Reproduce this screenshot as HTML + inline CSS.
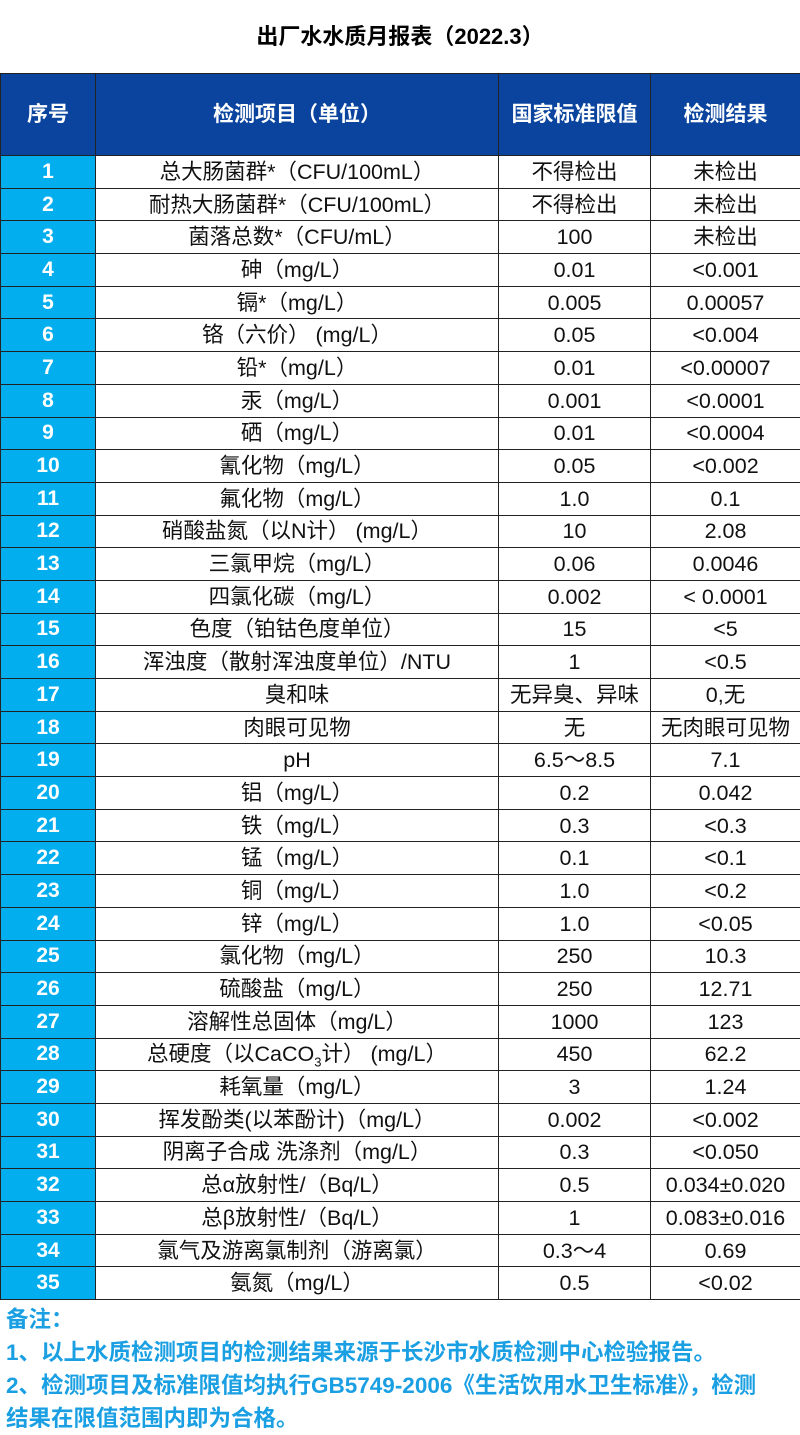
<!DOCTYPE html>
<html><head><meta charset="utf-8"><style>
*{margin:0;padding:0;box-sizing:border-box}
body{width:800px;height:1435px;background:#fff;font-family:"Liberation Sans","Noto Sans CJK SC",sans-serif;overflow:hidden;position:relative}
.title{position:absolute;top:22px;left:0;width:800px;text-align:center;font-weight:bold;font-size:22px;color:#000;line-height:30px}
table{position:absolute;top:73px;left:0;width:800px;border-collapse:collapse;table-layout:fixed}
td,th{border:1px solid #222;text-align:center;font-size:21.5px;color:#111;padding:0;white-space:nowrap;overflow:hidden;line-height:24px;vertical-align:middle}
th{background:#0a449e;color:#fff;font-weight:bold;height:82px;font-size:21px}
tbody tr{height:32.7px}
td:first-child{background:#03aeef;color:#fff;font-weight:bold;font-size:21px}
.notes{position:absolute;top:1303px;left:6px;color:#1a9fe3;font-weight:bold;font-size:22.5px;line-height:33px;white-space:nowrap}
sub{font-size:13px;line-height:0}
</style></head><body>
<div class="title">出厂水水质月报表（2022.3）</div>
<table>
<colgroup><col style="width:95px"><col style="width:403px"><col style="width:152px"><col style="width:150px"></colgroup>
<thead><tr><th>序号</th><th>检测项目（单位）</th><th>国家标准限值</th><th>检测结果</th></tr></thead>
<tbody>
<tr><td>1</td><td>总大肠菌群*（CFU/100mL）</td><td>不得检出</td><td>未检出</td></tr>
<tr><td>2</td><td>耐热大肠菌群*（CFU/100mL）</td><td>不得检出</td><td>未检出</td></tr>
<tr><td>3</td><td>菌落总数*（CFU/mL）</td><td>100</td><td>未检出</td></tr>
<tr><td>4</td><td>砷（mg/L）</td><td>0.01</td><td>&lt;0.001</td></tr>
<tr><td>5</td><td>镉*（mg/L）</td><td>0.005</td><td>0.00057</td></tr>
<tr><td>6</td><td>铬（六价） (mg/L）</td><td>0.05</td><td>&lt;0.004</td></tr>
<tr><td>7</td><td>铅*（mg/L）</td><td>0.01</td><td>&lt;0.00007</td></tr>
<tr><td>8</td><td>汞（mg/L）</td><td>0.001</td><td>&lt;0.0001</td></tr>
<tr><td>9</td><td>硒（mg/L）</td><td>0.01</td><td>&lt;0.0004</td></tr>
<tr><td>10</td><td>氰化物（mg/L）</td><td>0.05</td><td>&lt;0.002</td></tr>
<tr><td>11</td><td>氟化物（mg/L）</td><td>1.0</td><td>0.1</td></tr>
<tr><td>12</td><td>硝酸盐氮（以N计） (mg/L）</td><td>10</td><td>2.08</td></tr>
<tr><td>13</td><td>三氯甲烷（mg/L）</td><td>0.06</td><td>0.0046</td></tr>
<tr><td>14</td><td>四氯化碳（mg/L）</td><td>0.002</td><td>&lt; 0.0001</td></tr>
<tr><td>15</td><td>色度（铂钴色度单位）</td><td>15</td><td>&lt;5</td></tr>
<tr><td>16</td><td>浑浊度（散射浑浊度单位）/NTU</td><td>1</td><td>&lt;0.5</td></tr>
<tr><td>17</td><td>臭和味</td><td>无异臭、异味</td><td>0,无</td></tr>
<tr><td>18</td><td>肉眼可见物</td><td>无</td><td>无肉眼可见物</td></tr>
<tr><td>19</td><td>pH</td><td>6.5～8.5</td><td>7.1</td></tr>
<tr><td>20</td><td>铝（mg/L）</td><td>0.2</td><td>0.042</td></tr>
<tr><td>21</td><td>铁（mg/L）</td><td>0.3</td><td>&lt;0.3</td></tr>
<tr><td>22</td><td>锰（mg/L）</td><td>0.1</td><td>&lt;0.1</td></tr>
<tr><td>23</td><td>铜（mg/L）</td><td>1.0</td><td>&lt;0.2</td></tr>
<tr><td>24</td><td>锌（mg/L）</td><td>1.0</td><td>&lt;0.05</td></tr>
<tr><td>25</td><td>氯化物（mg/L）</td><td>250</td><td>10.3</td></tr>
<tr><td>26</td><td>硫酸盐（mg/L）</td><td>250</td><td>12.71</td></tr>
<tr><td>27</td><td>溶解性总固体（mg/L）</td><td>1000</td><td>123</td></tr>
<tr><td>28</td><td>总硬度（以CaCO<sub>3</sub>计） (mg/L）</td><td>450</td><td>62.2</td></tr>
<tr><td>29</td><td>耗氧量（mg/L）</td><td>3</td><td>1.24</td></tr>
<tr><td>30</td><td>挥发酚类(以苯酚计)（mg/L）</td><td>0.002</td><td>&lt;0.002</td></tr>
<tr><td>31</td><td>阴离子合成 洗涤剂（mg/L）</td><td>0.3</td><td>&lt;0.050</td></tr>
<tr><td>32</td><td>总α放射性/（Bq/L）</td><td>0.5</td><td>0.034±0.020</td></tr>
<tr><td>33</td><td>总β放射性/（Bq/L）</td><td>1</td><td>0.083±0.016</td></tr>
<tr><td>34</td><td>氯气及游离氯制剂（游离氯）</td><td>0.3～4</td><td>0.69</td></tr>
<tr><td>35</td><td>氨氮（mg/L）</td><td>0.5</td><td>&lt;0.02</td></tr>
</tbody></table>
<div class="notes">备注：<br>1、以上水质检测项目的检测结果来源于长沙市水质检测中心检验报告。<br>2、检测项目及标准限值均执行GB5749-2006《生活饮用水卫生标准》，检测<br>结果在限值范围内即为合格。</div>
</body></html>
